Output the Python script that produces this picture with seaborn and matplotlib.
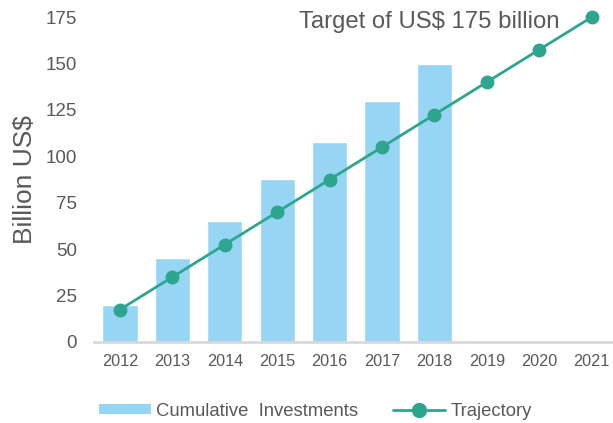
import matplotlib
matplotlib.use("Agg")
import matplotlib.pyplot as plt
import seaborn as sns
import pandas as pd
from matplotlib.patches import Patch
from matplotlib.lines import Line2D

years = ["2012", "2013", "2014", "2015", "2016", "2017", "2018", "2019", "2020", "2021"]
bar_years = ["2012", "2013", "2014", "2015", "2016", "2017", "2018"]
investments = [20, 45, 65, 88, 108, 130, 150]
trajectory = [17.5, 35, 52.5, 70, 87.5, 105, 122.5, 140, 157.5, 175]

BAR = "#97D5F5"
LINE = "#2EA58E"
TXT = "#595959"

sns.set_theme(style="white")
plt.rcParams["font.family"] = ["Liberation Sans", "DejaVu Sans"]

fig = plt.figure(figsize=(6.13, 4.23), dpi=100)
ax = fig.add_axes([0.153, 0.1915, 0.855, 0.768])

df_bar = pd.DataFrame({"year": bar_years, "value": investments})
sns.barplot(data=df_bar, x="year", y="value", order=years, color=BAR,
            width=0.67, saturation=1, ax=ax)

df_line = pd.DataFrame({"year": years, "value": trajectory})
sns.pointplot(data=df_line, x="year", y="value", order=years, color=LINE,
              markers="o", markersize=8.5, linewidth=2, ax=ax)
for ln in ax.lines:
    ln.set_clip_on(False)
for c in ax.collections:
    c.set_clip_on(False)

ax.set_ylim(0, 175)
ax.set_xlim(-0.5, 9.5)
ax.set_yticks([0, 25, 50, 75, 100, 125, 150, 175])
ax.tick_params(axis="both", length=0, colors=TXT)
ax.tick_params(axis="y", labelsize=13.5, pad=12)
ax.tick_params(axis="x", labelsize=11.7, pad=9)
ax.set_xlabel("")
ax.set_ylabel("Billion US$", fontsize=19, color=TXT, labelpad=6)

for s in ["top", "right", "left"]:
    ax.spines[s].set_visible(False)
ax.spines["bottom"].set_color("#D9D9D9")
ax.spines["bottom"].set_linewidth(2)

ax.text(0.888, 0.985, "Target of US$ 175 billion", transform=ax.transAxes,
        ha="right", va="center", fontsize=17.2, color=TXT)

handles = [Patch(facecolor=BAR, edgecolor="none"),
           Line2D([0], [0], color=LINE, lw=2, marker="o", markersize=10)]
fig.legend(handles, ["Cumulative  Investments", "Trajectory"], loc="center",
           bbox_to_anchor=(0.5147, 0.028), ncol=2, frameon=False, fontsize=13.3,
           labelcolor=TXT, handlelength=2.8, handleheight=0.5, columnspacing=1.9,
           handletextpad=0.3)

fig.savefig("out.png", dpi=100)
